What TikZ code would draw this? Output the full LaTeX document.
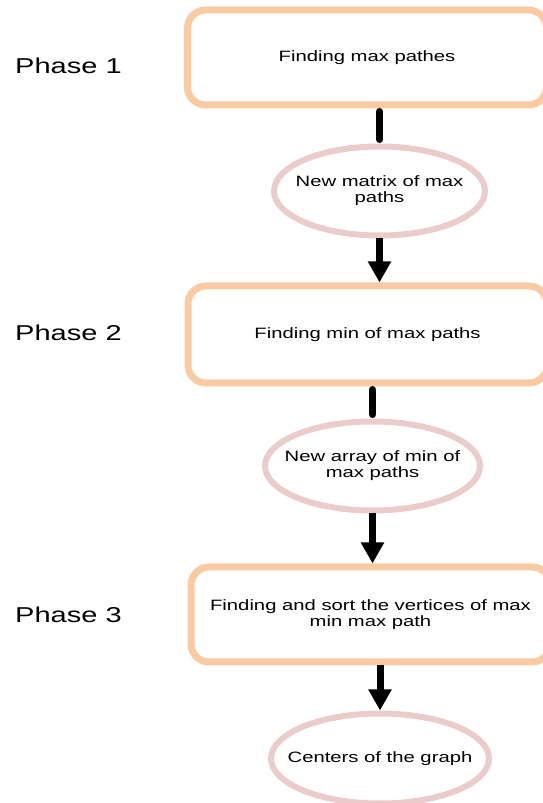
\documentclass[tikz,border=0pt]{standalone}
\usepackage{fontspec}
\setmainfont{Liberation Sans}[FakeStretch=1.35]
\usepackage{tikz}
\usetikzlibrary{shapes.geometric, arrows.meta, positioning}

\definecolor{boxline}{RGB}{250,203,163}
\definecolor{ellline}{RGB}{234,204,203}

\begin{document}
\begin{tikzpicture}[
  x=1pt, y=1pt,
  phasebox/.style={draw=boxline, line width=7pt, rounded corners=18pt, minimum width=359pt, minimum height=95pt, align=center, font=\fontsize{15}{16}\selectfont},
  result/.style={draw=ellline, ellipse, line width=6pt, minimum width=211pt, minimum height=89pt, inner xsep=-20pt, inner ysep=0pt, align=center, font=\fontsize{15}{16}\selectfont},
  phase/.style={anchor=west, inner sep=0pt, font=\fontsize{21.5}{24}\selectfont},
  link/.style={line width=7pt, line cap=round, shorten <=3pt, shorten >=4pt},
  arr/.style={-{Triangle[width=22pt, length=21pt]}, line width=7pt}
]
  \useasboundingbox (0,0) rectangle (542,803);

  % Phase labels
  \node[phase] (p1) at (15,737) {Phase 1};
  \node[phase] (p2) at (15,470) {Phase 2};
  \node[phase] (p3) at (15,188) {Phase 3};

  % Steps and results
  \node[phasebox] (maxp) at (367,745.5) {Finding max pathes};
  \node[result, below=35pt of maxp, xshift=12.5pt] (matrix) {New matrix of max\\paths};
  \node[phasebox, minimum height=97pt, below=44pt of matrix, xshift=-12pt] (minp) {Finding min of max paths};
  \node[result, minimum width=215pt, below=32pt of minp, xshift=5pt] (array) {New array of min of\\max paths};
  \node[phasebox, below=50pt of array, xshift=-2pt] (sortv) {Finding and sort the vertices of max\\min max path};
  \node[result, minimum width=218pt, minimum height=90pt, below=45pt of sortv, xshift=9.5pt] (centers) {Centers of the graph};

  % Connectors
  \draw[link] (matrix.north |- maxp.south) -- (matrix.north);
  \draw[arr] (matrix.south) -- (matrix.south |- minp.north);
  \draw[link] (array.north |- minp.south) -- (array.north);
  \draw[arr] (array.south) -- (array.south |- sortv.north);
  \draw[arr] (centers.north |- sortv.south) -- (centers.north);

\end{tikzpicture}
\end{document}
